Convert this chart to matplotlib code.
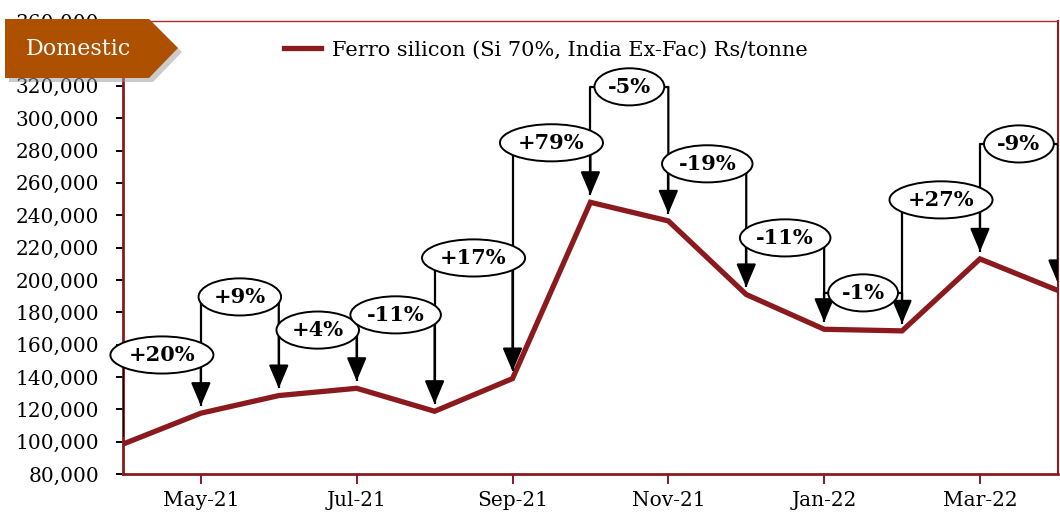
import matplotlib
matplotlib.use("Agg")
import matplotlib.pyplot as plt
from matplotlib.patches import Polygon, FancyArrowPatch
from matplotlib.ticker import StrMethodFormatter

# data
months = ['Apr-21', 'May-21', 'Jun-21', 'Jul-21', 'Aug-21', 'Sep-21', 'Oct-21',
          'Nov-21', 'Dec-21', 'Jan-22', 'Feb-22', 'Mar-22', 'Apr-22']
price = [98500, 117600, 128500, 133000, 118800, 139000, 248000,
         236500, 191000, 169500, 168500, 213000, 193500]
change_labels = ['+20%', '+9%', '+4%', '-11%', '+17%', '+79%', '-5%',
                 '-19%', '-11%', '-1%', '+27%', '-9%']
bracket_level = [153600, 189500, 169000, 178400, 213600, 284800, 319400,
                 271800, 226000, 192000, 249500, 284100]

line_col = '#8B1A1F'
tag_col = '#AD5000'
plt.rcParams['font.family'] = ['DejaVu Serif']

fig = plt.figure(figsize=(10.6, 5.14), dpi=100)
ax = fig.add_axes([0.116, 0.0778, 0.882, 0.881])

x = list(range(len(months)))
ax.plot(x, price, color=line_col, lw=3.8, solid_joinstyle='miter', zorder=3,
        label='Ferro silicon (Si 70%, India Ex-Fac) Rs/tonne')

# bracket arrows with % change
gap = 4500
for i, lab in enumerate(change_labels):
    L = bracket_level[i]
    ax.plot([i, i, i + 1], [price[i] + gap, L, L], color='black', lw=1.6,
            zorder=4, solid_capstyle='butt')
    arr = FancyArrowPatch((i + 1, L), (i + 1, price[i + 1] + gap),
                          arrowstyle='-|>,head_length=1.3,head_width=0.55',
                          mutation_scale=11, color='black', lw=1.6,
                          shrinkA=0, shrinkB=0, zorder=4)
    ax.add_patch(arr)
    ax.text(i + 0.5, L, lab, ha='center', va='center', fontsize=15,
            fontweight='bold', zorder=6,
            bbox=dict(boxstyle='ellipse,pad=0.15', fc='white', ec='black', lw=1.4))

ax.set_xlim(0, 12)
ax.set_ylim(80000, 360000)
ax.set_yticks(range(80000, 360001, 20000))
ax.yaxis.set_major_formatter(StrMethodFormatter('{x:,.0f}'))
ax.set_xticks(x[1::2])
ax.set_xticklabels(months[1::2])
ax.tick_params(axis='y', labelsize=14.5, length=5, width=1.4, pad=12, color='black')
ax.tick_params(axis='x', labelsize=14.5, length=7, width=1.4, pad=5, color=line_col)

for s in ['left', 'bottom']:
    ax.spines[s].set_color(line_col)
    ax.spines[s].set_linewidth(2)
ax.spines['right'].set_color(line_col)
ax.spines['right'].set_linewidth(1.5)
ax.spines['top'].set_color('#B22A2A')
ax.spines['top'].set_linewidth(1)

leg = ax.legend(loc='center', bbox_to_anchor=(0.452, 0.936), frameon=False,
                fontsize=15, handlelength=1.8, handletextpad=0.5)

# "Domestic" tag in the corner
W, H = 1060.0, 514.0
pts = [(5, 19), (149, 19), (178, 48), (149, 78), (5, 78)]
shadow = Polygon([((px + 4) / W, 1 - (py + 4) / H) for px, py in pts],
                 closed=True, transform=fig.transFigure, fc='#999999',
                 ec='none', alpha=0.5, zorder=9)
tag = Polygon([(px / W, 1 - py / H) for px, py in pts], closed=True,
              transform=fig.transFigure, fc=tag_col, ec='none', zorder=10)
fig.add_artist(shadow)
fig.add_artist(tag)
fig.text(78 / W, 1 - 49 / H, 'Domestic', color='white', fontsize=16,
         ha='center', va='center', zorder=11)

fig.savefig('out.png', dpi=100)
